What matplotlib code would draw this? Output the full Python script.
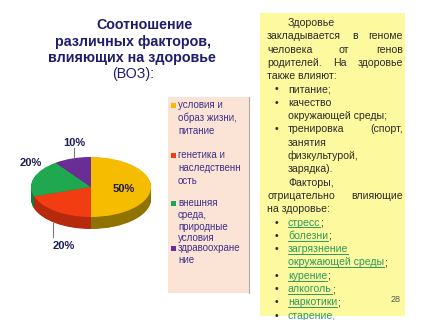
import numpy as np
import matplotlib.pyplot as plt
from matplotlib.patches import Rectangle
from matplotlib.lines import Line2D

plt.rcParams['font.family'] = ['Liberation Sans', 'DejaVu Sans']

W, H = 427, 320  # размер картинки в пикселях

# --- данные диаграммы ---
factors = ["условия и\nобраз жизни,\nпитание",
           "генетика и\nнаследственн\nость",
           "внешняя\nсреда,\nприродные\nусловия",
           "здравоохране\nние"]
shares = [50, 20, 20, 10]
top_colors = ["#f5bc00", "#f23c12", "#1fa84f", "#6a2d95"]
side_colors = ["#8f7200", "#b52a0c", "#137a38", "#4a1d6a"]

title_lines = ["Соотношение", "различных факторов,", "влияющих на здоровье", "(ВОЗ):"]

# текст справа: (вид строки, куски текста, выравнивание по ширине)
# куски: (текст, ссылка?)
side_text = [
    ("indent", [("Здоровье", False)], False),
    ("para", [("закладывается в геноме", False)], True),
    ("para", [("человека от генов", False)], True),
    ("para", [("родителей. На здоровье", False)], True),
    ("para", [("также влияют:", False)], False),
    ("bullet", [("питание;", False)], False),
    ("bullet", [("качество", False)], False),
    ("cont", [("окружающей среды;", False)], False),
    ("bullet", [("тренировка (спорт,", False)], True),
    ("cont", [("занятия", False)], False),
    ("cont", [("физкультурой,", False)], False),
    ("cont", [("зарядка).", False)], False),
    ("indent", [("Факторы,", False)], False),
    ("para", [("отрицательно влияющие", False)], True),
    ("para", [("на здоровье:", False)], False),
    ("bullet", [("стресс", True), (";", False)], False),
    ("bullet", [("болезни", True), (";", False)], False),
    ("bullet", [("загрязнение", True)], False),
    ("cont", [("окружающей среды", True), (";", False)], False),
    ("bullet", [("курение", True), (";", False)], False),
    ("bullet", [("алкоголь", True), (";", False)], False),
    ("bullet", [("наркотики", True), (";", False)], False),
    ("bullet", [("старение,", True)], False),
]


def fx(px):
    return px / W


def fy(py):
    return 1 - py / H


fig = plt.figure(figsize=(W / 100, H / 100), dpi=100)
fig.patch.set_facecolor('white')
renderer = fig.canvas.get_renderer()

# --- заголовок ---
title_x = [145, 133, 132, 133]
title_y = [25, 42, 58, 74]
for i, line in enumerate(title_lines):
    fig.text(fx(title_x[i]), fy(title_y[i]), line, ha='center', va='center',
             fontsize=10.3, color='#1f1d6b',
             fontweight='bold' if i < 3 else 'normal')

# --- объемная круговая диаграмма ---
ax = fig.add_axes([fx(31), fy(240), 120 / W, 90 / H])
depth = 0.4
for d in np.linspace(depth, 0.02, 24):
    ax.pie(shares, colors=side_colors, startangle=90, counterclock=False,
           center=(0, -d), wedgeprops=dict(linewidth=0))
ax.pie(shares, colors=top_colors, startangle=90, counterclock=False,
       wedgeprops=dict(linewidth=0))
ax.set_aspect('auto')
ax.set_xlim(-1, 1)
ax.set_ylim(-1.767, 1.233)
ax.axis('off')

lab_pos = [(0.55, -0.08), (-0.45, -1.97), (-1.0, 0.8), (-0.27, 1.47)]
for (x, y), v in zip(lab_pos, shares):
    ax.text(x, y, f"{v}%", ha='center', va='center', fontsize=8,
            fontweight='bold', color='#1c1c5a', clip_on=False)
# выноски
ax.plot([-0.283, -0.283], [1.3, 0.97], color='#777777', lw=0.8, clip_on=False)
ax.plot([-0.633, -0.633], [-1.2, -1.67], color='#777777', lw=0.8, clip_on=False)

# --- легенда ---
fig.add_artist(Rectangle((fx(168), fy(293)), 81 / W, 196 / H,
                         transform=fig.transFigure, fc='#fbe4d5', ec='none'))
fig.add_artist(Line2D([fx(249), fx(249)], [fy(293), fy(97)],
                      color='#b5a5a5', lw=0.8))
entry_y = [105, 155, 203, 248]
line_step = [12.8, 12.8, 11.8, 12]
for lab, col, y0, st in zip(factors, top_colors, entry_y, line_step):
    fig.add_artist(Rectangle((fx(171), fy(y0 + 2.5)), 5 / W, 5 / H,
                             transform=fig.transFigure, fc=col, ec='none'))
    for j, part in enumerate(lab.split("\n")):
        fig.text(fx(178), fy(y0 + j * st), part, ha='left', va='center',
                 fontsize=7, color='#40308a')

# --- желтый блок с текстом ---
fig.add_artist(Rectangle((fx(260), fy(316)), 145 / W, 303 / H,
                         transform=fig.transFigure, fc='#fdf99e', ec='none'))

dark = '#2b2b2b'
link = '#2e9a5e'
fs = 7.6
x_left = {"para": 267, "indent": 288, "bullet": 288, "cont": 288}
x_right = 403
for i, (kind, pieces, just) in enumerate(side_text):
    yb = 26 + 13.3 * i
    if kind == "bullet":
        fig.text(fx(275), fy(yb), "•", ha='left', va='baseline',
                 fontsize=fs, color=dark)
    x0 = x_left[kind]
    if just:
        words = pieces[0][0].split(" ")
        texts = [fig.text(0, fy(yb), w, ha='left', va='baseline',
                          fontsize=fs, color=dark) for w in words]
        widths = [t.get_window_extent(renderer).width for t in texts]
        gap = (x_right - x0 - sum(widths)) / (len(words) - 1)
        x = x0
        for t, w in zip(texts, widths):
            t.set_x(fx(x))
            x += w + gap
        continue
    x = x0
    for txt, is_link in pieces:
        t = fig.text(fx(x), fy(yb), txt, ha='left', va='baseline',
                     fontsize=fs, color=link if is_link else dark)
        w = t.get_window_extent(renderer).width
        if is_link:
            fig.add_artist(Line2D([fx(x), fx(x + w)], [fy(yb + 1.8), fy(yb + 1.8)],
                                  color=link, lw=0.7))
        x += w

fig.text(fx(396), fy(300), "28", ha='center', va='center', fontsize=6.5,
         color='#555555')

fig.savefig("out.png", dpi=100)
